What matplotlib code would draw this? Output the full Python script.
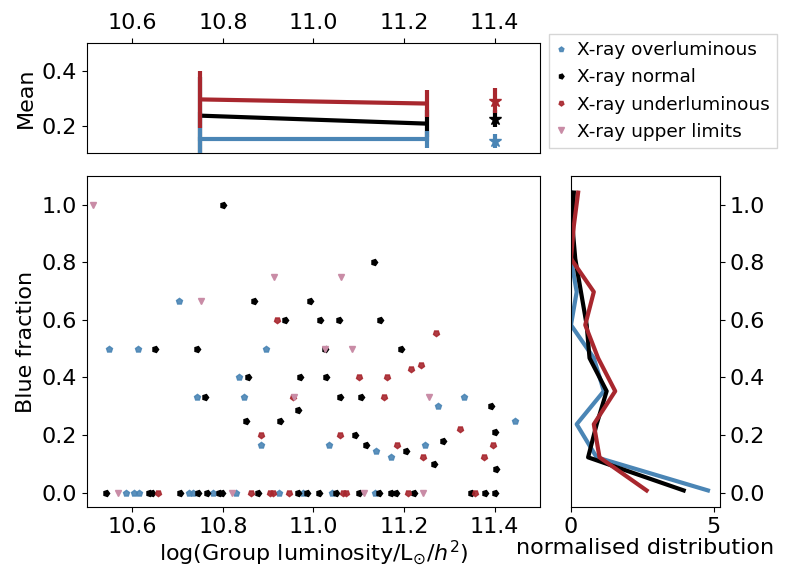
import matplotlib.pyplot as plt

# colours
c_over = "#4a85b5"
c_norm = "black"
c_under = "#a8272e"
c_upper = "#c98ca6"

# blue fraction vs group luminosity, split by X-ray class
over_x = [10.703, 10.549, 10.612, 10.896, 10.836, 10.742, 10.846, 11.034, 11.333,
          11.445, 11.246, 11.139, 11.171, 10.884, 11.276,
          10.586, 10.603, 10.614, 10.725, 10.735, 10.779, 10.829, 10.925, 10.977,
          11.042, 11.136]
over_y = [0.667, 0.5, 0.5, 0.5, 0.4, 0.333, 0.333, 0.167, 0.333,
          0.25, 0.167, 0.143, 0.125, 0.167, 0.30,
          0, 0, 0, 0, 0, 0, 0, 0, 0, 0, 0]

norm_x = [10.80, 10.869, 10.993, 10.938, 11.015, 10.651, 10.744, 11.026, 11.133,
          11.056, 11.147, 11.193, 10.856, 10.971, 11.028, 10.760, 10.967, 10.852,
          10.927, 11.059, 11.105, 11.393, 11.40, 11.092, 11.286, 11.116, 11.204,
          11.267, 11.404,
          10.541, 10.636, 10.643, 10.705, 10.746, 10.766, 10.792, 10.799, 10.878,
          10.965, 10.986, 11.013, 11.050, 11.101, 11.144, 11.171, 11.182, 11.222,
          11.347, 11.380, 11.40]
norm_y = [1.0, 0.667, 0.667, 0.6, 0.6, 0.5, 0.5, 0.5, 0.8,
          0.6, 0.6, 0.5, 0.4, 0.4, 0.4, 0.333, 0.286, 0.25,
          0.25, 0.333, 0.333, 0.30, 0.21, 0.2, 0.18, 0.167, 0.143,
          0.10, 0.083,
          0, 0, 0, 0, 0, 0, 0, 0, 0,
          0, 0, 0, 0, 0, 0, 0, 0, 0,
          0, 0, 0]

under_x = [10.920, 11.271, 10.884, 11.10, 11.163, 11.215, 11.238, 11.155, 11.323,
           11.059, 11.184, 11.396, 11.242, 11.377, 10.955,
           10.656, 10.863, 10.905, 10.911, 10.947, 11.066, 11.073, 11.208, 11.356]
under_y = [0.6, 0.556, 0.2, 0.4, 0.4, 0.429, 0.444, 0.333, 0.222,
           0.2, 0.167, 0.167, 0.125, 0.125, 0.333,
           0, 0, 0, 0, 0, 0, 0, 0, 0]

upper_x = [10.513, 10.913, 10.751, 11.026, 11.062, 11.086, 10.958, 11.255,
           10.568, 10.821, 11.112, 11.242]
upper_y = [1.0, 0.75, 0.667, 0.5, 0.75, 0.5, 0.333, 0.333,
           0, 0, 0, 0]

# binned means
bin_x = [10.75, 11.25]
over_mean = [0.15, 0.15]
over_err = [0.10, 0.03]
norm_mean = [0.236, 0.207]
norm_err = [0.14, 0.05]
under_mean = [0.295, 0.28]
under_err = [0.105, 0.05]

# upper-limit groups, plotted separately
ul_x = 11.4
ul_mean = [0.145, 0.225, 0.29]
ul_err = [0.025, 0.03, 0.045]

# normalised distributions of blue fraction
dist_bins = [0.0075, 0.1225, 0.2375, 0.3525, 0.4675, 0.5825, 0.6975, 0.8125, 0.9275, 1.0425]
over_dist = [4.8, 0.9, 0.2, 1.15, 0.8, 0.0, 0.2, 0.0, 0.0, 0.0]
norm_dist = [3.95, 0.6, 0.9, 1.25, 0.65, 0.55, 0.35, 0.15, 0.05, 0.1]
under_dist = [2.65, 1.0, 0.8, 1.55, 0.95, 0.5, 0.8, 0.0, 0.1, 0.25]

plt.rcParams['font.size'] = 16

fig = plt.figure(figsize=(7.88, 5.69), dpi=100)
ax_top = fig.add_axes([0.1104, 0.731, 0.5746, 0.1934])
ax = fig.add_axes([0.1104, 0.109, 0.5746, 0.5816])
ax_r = fig.add_axes([0.7246, 0.109, 0.189, 0.5816])

ms = 4.5
h1, = ax.plot(over_x, over_y, ls="none", marker=(5, 0, 0), ms=ms, color=c_over, alpha=0.9,
              label="X-ray overluminous")
h2, = ax.plot(norm_x, norm_y, ls="none", marker=(5, 0, -90), ms=ms, color=c_norm,
              label="X-ray normal")
h3, = ax.plot(under_x, under_y, ls="none", marker=(5, 0, 180), ms=ms, color=c_under, alpha=0.9,
              label="X-ray underluminous")
h4, = ax.plot(upper_x, upper_y, ls="none", marker="v", ms=ms + 0.5, color=c_upper,
              label="X-ray upper limits")
ax.set_xlim(10.5, 11.5)
ax.set_ylim(-0.05, 1.1)
ax.set_xticks([10.6, 10.8, 11.0, 11.2, 11.4])
ax.set_yticks([0.0, 0.2, 0.4, 0.6, 0.8, 1.0])
ax.set_xlabel(r"log(Group luminosity/L$_{\odot}$/$h^2$)", labelpad=1)
ax.set_ylabel("Blue fraction")

# mean blue fraction per luminosity bin
for m, e, c, z in [(over_mean, over_err, c_over, 3), (norm_mean, norm_err, c_norm, 2),
                   (under_mean, under_err, c_under, 4)]:
    ax_top.errorbar(bin_x, m, yerr=e, color=c, lw=3, elinewidth=3, zorder=z)
for m, e, c in zip(ul_mean, ul_err, [c_over, c_norm, c_under]):
    ax_top.errorbar([ul_x], [m], yerr=[e], color=c, marker="*", ms=9, lw=3, elinewidth=3)
ax_top.set_xlim(10.5, 11.5)
ax_top.set_ylim(0.1, 0.5)
ax_top.set_yticks([0.2, 0.4])
ax_top.set_xticks([10.6, 10.8, 11.0, 11.2, 11.4])
ax_top.xaxis.tick_top()
ax_top.set_ylabel("Mean")

# distributions
ax_r.plot(over_dist, dist_bins, color=c_over, lw=3)
ax_r.plot(norm_dist, dist_bins, color=c_norm, lw=3)
ax_r.plot(under_dist, dist_bins, color=c_under, lw=3)
ax_r.set_xlim(0, 5.22)
ax_r.set_ylim(-0.05, 1.1)
ax_r.set_xticks([0, 5])
ax_r.set_yticks([0.0, 0.2, 0.4, 0.6, 0.8, 1.0])
ax_r.yaxis.tick_right()
ax_r.set_xlabel("normalised distribution", labelpad=1)

fig.legend(handles=[h1, h2, h3, h4], loc="upper left", bbox_to_anchor=(0.692, 0.947),
           fontsize=13.3, markerscale=0.8, handlelength=0.5, handletextpad=0.6,
           borderpad=0.4, labelspacing=0.5, borderaxespad=0.2,
           fancybox=False, edgecolor="#cccccc")

fig.savefig("out.png", dpi=100)
